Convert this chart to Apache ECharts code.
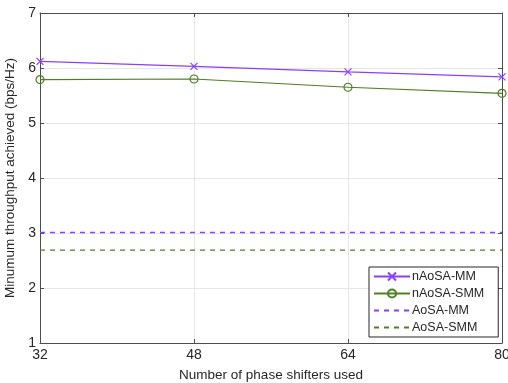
<!DOCTYPE html>
<html><head><meta charset="utf-8">
<script src="https://cdn.jsdelivr.net/npm/echarts@6/dist/echarts.min.js"></script>
<style>html,body{margin:0;padding:0;background:#fff}#c{width:508px;height:383px}</style>
</head><body><div id="c"></div>
<script>
const xValues = [32, 48, 64, 80];
const nAoSA_MM = [6.12, 6.03, 5.93, 5.84];
const nAoSA_SMM = [5.79, 5.80, 5.65, 5.54];
const AoSA_MM = [3.01, 3.01, 3.01, 3.01];
const AoSA_SMM = [2.69, 2.69, 2.69, 2.69];
const names = ['nAoSA-MM', 'nAoSA-SMM', 'AoSA-MM', 'AoSA-SMM'];

const purple = '#8A3FFC';
const green = '#4E7F23';
const font = 'Liberation Sans, Arial, sans-serif';
const pair = arr => xValues.map((x, i) => [x, arr[i]]);
const xPath = 'path://M0,0L10,10M10,0L0,10';

const chart = echarts.init(document.getElementById('c'), null, {renderer: 'canvas'});
const axisLine = {show: true, lineStyle: {color: '#4d4d4d', width: 1}};
const tick = {show: true, inside: true, length: 4, lineStyle: {color: '#4d4d4d'}};
chart.setOption({
  animation: false,
  backgroundColor: '#fff',
  grid: {left: 40, right: 6, top: 13, bottom: 40, outerBoundsMode: 'none', containLabel: false},
  xAxis: [{
    type: 'value', min: 32, max: 80, interval: 16,
    name: 'Number of phase shifters used', nameLocation: 'middle', nameGap: 25,
    nameTextStyle: {fontFamily: font, fontSize: 13.5, color: '#262626'},
    axisLine: axisLine, axisTick: tick,
    axisLabel: {fontFamily: font, fontSize: 14, color: '#262626', margin: 5},
    splitLine: {show: true, lineStyle: {color: '#e6e6e6', width: 1}}
  }, {
    type: 'value', position: 'top', min: 32, max: 80, interval: 16,
    axisLine: axisLine, axisTick: tick,
    axisLabel: {show: false}, splitLine: {show: false}
  }],
  yAxis: [{
    type: 'value', min: 1, max: 7, interval: 1,
    name: 'Minumum throughput achieved (bps/Hz)', nameLocation: 'middle', nameGap: 17,
    nameTextStyle: {fontFamily: font, fontSize: 13.5, color: '#262626'},
    axisLine: axisLine, axisTick: tick,
    axisLabel: {fontFamily: font, fontSize: 14, color: '#262626', margin: 4},
    splitLine: {show: true, lineStyle: {color: '#e6e6e6', width: 1}}
  }, {
    type: 'value', position: 'right', min: 1, max: 7, interval: 1,
    axisLine: axisLine, axisTick: tick,
    axisLabel: {show: false}, splitLine: {show: false}
  }],
  legend: {
    orient: 'vertical', left: 369, top: 267,
    backgroundColor: '#fff', borderColor: '#262626', borderWidth: 1, borderRadius: 0,
    padding: [3, 14, 3, 4], itemGap: 4, itemWidth: 36, itemHeight: 10,
    textStyle: {fontFamily: font, fontSize: 12.5, color: '#262626', padding: [0, 0, 0, -3]},
    data: [
      {name: names[0]},
      {name: names[1]},
      {name: names[2], itemStyle: {color: 'rgba(0,0,0,0)', borderWidth: 0}},
      {name: names[3], itemStyle: {color: 'rgba(0,0,0,0)', borderWidth: 0}}
    ]
  },
  series: [{
    name: names[0], type: 'line', data: pair(nAoSA_MM),
    symbol: xPath, symbolSize: 7,
    itemStyle: {color: purple, borderColor: purple, borderWidth: 1.2},
    lineStyle: {color: purple, width: 1.2}
  }, {
    name: names[1], type: 'line', data: pair(nAoSA_SMM),
    symbol: 'circle', symbolSize: 8,
    itemStyle: {color: 'rgba(0,0,0,0)', borderColor: green, borderWidth: 1.2},
    lineStyle: {color: green, width: 1.2}
  }, {
    name: names[2], type: 'line', data: pair(AoSA_MM),
    symbol: 'none', itemStyle: {color: purple},
    lineStyle: {color: purple, width: 1.5, type: [5, 5]}
  }, {
    name: names[3], type: 'line', data: pair(AoSA_SMM),
    symbol: 'none', itemStyle: {color: green},
    lineStyle: {color: green, width: 1.2, type: [5, 5]}
  }]
});
</script></body></html>
